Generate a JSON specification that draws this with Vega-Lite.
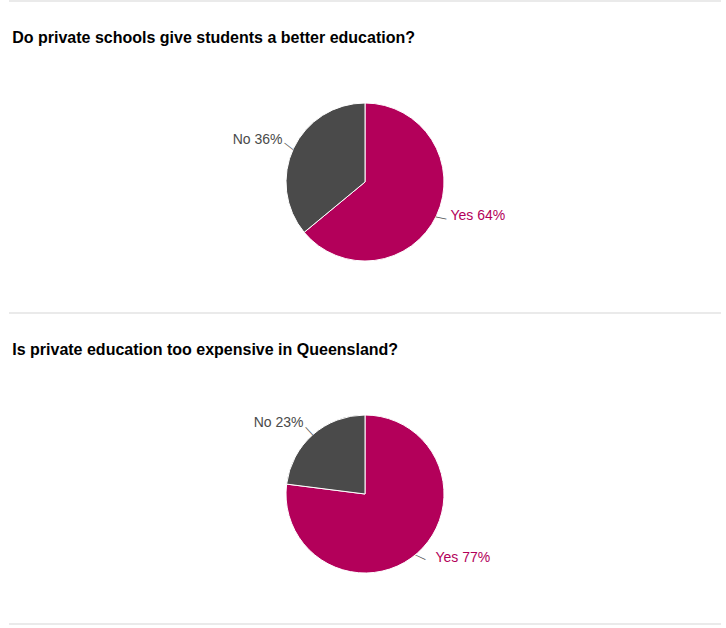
{
  "$schema": "https://vega.github.io/schema/vega-lite/v6.json",
  "padding": {"left": 8, "top": 0, "right": 0, "bottom": 0},
  "spacing": 0,
  "config": {
    "view": {"stroke": null},
    "font": "Liberation Sans",
    "title": {"anchor": "start", "fontSize": 16, "fontWeight": "bold", "color": "#000000", "baseline": "alphabetic", "offset": -46, "dx": 4, "font": "Liberation Sans"}
  },
  "datasets": {
    "q1": [
      {"answer": "Yes", "pct": 64, "label": "Yes 64%"},
      {"answer": "No", "pct": 36, "label": "No 36%"}
    ],
    "q2": [
      {"answer": "Yes", "pct": 77, "label": "Yes 77%"},
      {"answer": "No", "pct": 23, "label": "No 23%"}
    ]
  },
  "vconcat": [
    {
      "title": "Do private schools give students a better education?",
      "width": 712,
      "height": 260,
      "data": {"name": "q1"},
      "layer": [
        {"mark": {"type": "rule", "color": "#e8e8e8", "strokeWidth": 1.5, "yOffset": -51}, "encoding": {"y": {"value": 0}}},
        {"mark": {"type": "arc", "outerRadius": 79, "stroke": "#ffffff", "strokeWidth": 1},
         "encoding": {
           "theta": {"field": "pct", "type": "quantitative", "stack": true},
           "order": {"field": "answer", "sort": "descending"},
           "color": {"field": "answer", "type": "nominal", "scale": {"domain": ["Yes", "No"], "range": ["#b3005a", "#4a4a4a"]}, "legend": null}
         }},
        {"mark": {"type": "text", "text": "—", "align": "center", "baseline": "middle", "radius": 84, "fontSize": 11, "color": "#555555"},
         "encoding": {
           "theta": {"field": "pct", "type": "quantitative", "stack": true},
           "order": {"field": "answer", "sort": "descending"},
           "angle": {"condition": {"test": "datum.answer === 'Yes'", "value": 12}, "value": 38}
         }},
        {"mark": {"type": "text", "align": "left", "baseline": "middle", "radius": 90, "fontSize": 14, "dx": 4, "dy": -4},
         "encoding": {
           "theta": {"field": "pct", "type": "quantitative", "stack": true},
           "order": {"field": "answer", "sort": "descending"},
           "color": {"field": "answer", "type": "nominal", "legend": null},
           "text": {"field": "label"},
           "opacity": {"condition": {"test": "datum.answer === 'Yes'", "value": 1}, "value": 0}
         }},
        {"mark": {"type": "text", "align": "right", "baseline": "middle", "radius": 90, "fontSize": 14, "dx": -1, "dy": -4},
         "encoding": {
           "theta": {"field": "pct", "type": "quantitative", "stack": true},
           "order": {"field": "answer", "sort": "descending"},
           "color": {"field": "answer", "type": "nominal", "legend": null},
           "text": {"field": "label"},
           "opacity": {"condition": {"test": "datum.answer === 'No'", "value": 1}, "value": 0}
         }}
      ]
    },
    {
      "title": "Is private education too expensive in Queensland?",
      "width": 712,
      "height": 260,
      "data": {"name": "q2"},
      "layer": [
        {"mark": {"type": "rule", "color": "#e8e8e8", "strokeWidth": 1.5, "yOffset": -51}, "encoding": {"y": {"value": 0}}},
        {"mark": {"type": "rule", "color": "#e8e8e8", "strokeWidth": 1.5}, "encoding": {"y": {"value": "height"}}},
        {"mark": {"type": "arc", "outerRadius": 79, "stroke": "#ffffff", "strokeWidth": 1},
         "encoding": {
           "theta": {"field": "pct", "type": "quantitative", "stack": true},
           "order": {"field": "answer", "sort": "descending"},
           "color": {"field": "answer", "type": "nominal", "scale": {"domain": ["Yes", "No"], "range": ["#b3005a", "#4a4a4a"]}, "legend": null}
         }},
        {"mark": {"type": "text", "text": "—", "align": "center", "baseline": "middle", "radius": 84, "fontSize": 11, "color": "#555555"},
         "encoding": {
           "theta": {"field": "pct", "type": "quantitative", "stack": true},
           "order": {"field": "answer", "sort": "descending"},
           "angle": {"condition": {"test": "datum.answer === 'Yes'", "value": 25}, "value": 48}
         }},
        {"mark": {"type": "text", "align": "left", "baseline": "middle", "radius": 90, "fontSize": 14, "dx": 11, "dy": -4},
         "encoding": {
           "theta": {"field": "pct", "type": "quantitative", "stack": true},
           "order": {"field": "answer", "sort": "descending"},
           "color": {"field": "answer", "type": "nominal", "legend": null},
           "text": {"field": "label"},
           "opacity": {"condition": {"test": "datum.answer === 'Yes'", "value": 1}, "value": 0}
         }},
        {"mark": {"type": "text", "align": "right", "baseline": "middle", "radius": 90, "fontSize": 14, "dx": -2, "dy": -3},
         "encoding": {
           "theta": {"field": "pct", "type": "quantitative", "stack": true},
           "order": {"field": "answer", "sort": "descending"},
           "color": {"field": "answer", "type": "nominal", "legend": null},
           "text": {"field": "label"},
           "opacity": {"condition": {"test": "datum.answer === 'No'", "value": 1}, "value": 0}
         }}
      ]
    }
  ]
}
